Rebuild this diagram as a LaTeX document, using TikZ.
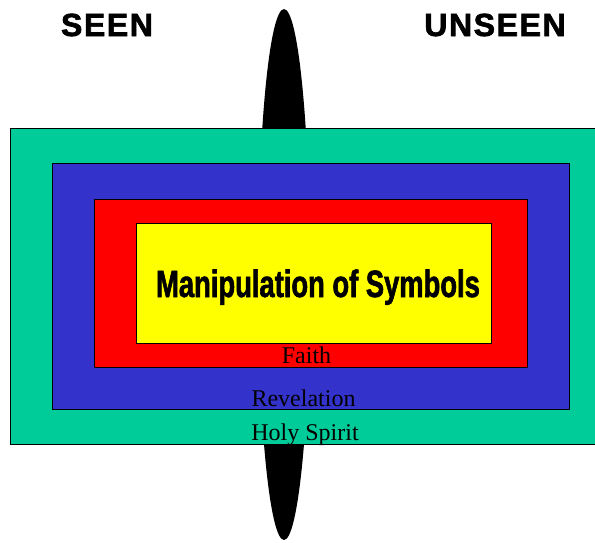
\documentclass[tikz,border=0pt]{standalone}
\usepackage{fontspec}
\usetikzlibrary{shapes.geometric}
\setmainfont{Liberation Serif}
\newfontfamily\headfont[LetterSpace=5,FakeBold=2]{Liberation Sans Bold}
\newfontfamily\impactfont[FakeStretch=0.72,FakeBold=1.5]{Liberation Sans Bold}
\begin{document}
\begin{tikzpicture}[
        x=1pt, y=-1pt,
        layer/.style={rectangle, draw=black, line width=0.8pt, inner sep=0pt},
        heading/.style={font=\headfont\fontsize{32}{32}\selectfont, inner sep=0pt, anchor=base},
        label/.style={font=\fontsize{24}{24}\selectfont, inner sep=0pt, text=black, anchor=base}
    ]
    \useasboundingbox (0,0) rectangle (595,542);
    \definecolor{spiritgreen}{HTML}{00CC99}
    \definecolor{revblue}{HTML}{3333CC}
    \definecolor{symyellow}{HTML}{FFFF00}

    % divide between seen and unseen
    \node[ellipse, fill=black, minimum width=52pt, minimum height=531pt, inner sep=0pt] (divide) at (284,274.5) {};

    \node[layer, fill=spiritgreen, minimum width=590pt, minimum height=316pt] (spirit) at (305,286) {};
    \node[layer, fill=revblue, minimum width=517pt, minimum height=246pt] (revelation) at (310.5,286) {};
    \node[layer, fill=red, minimum width=433pt, minimum height=168pt] (faith) at (310.5,283) {};
    \node[layer, fill=symyellow, minimum width=355pt, minimum height=120pt] (symbols) at (313.5,283) {};

    \node[font=\impactfont\fontsize{38}{38}\selectfont, inner sep=0pt, anchor=base] (manip) at (318,297) {Manipulation of Symbols};

    \node[label] (faithlbl) at (306.5,363) {Faith};
    \node[label] (revlbl) at (303.5,406) {Revelation};
    \node[label] (spiritlbl) at (305,440) {Holy Spirit};

    \node[heading] (seen) at (107,36) {SEEN};
    \node[heading] (unseen) at (495,36) {UNSEEN};
\end{tikzpicture}
\end{document}
